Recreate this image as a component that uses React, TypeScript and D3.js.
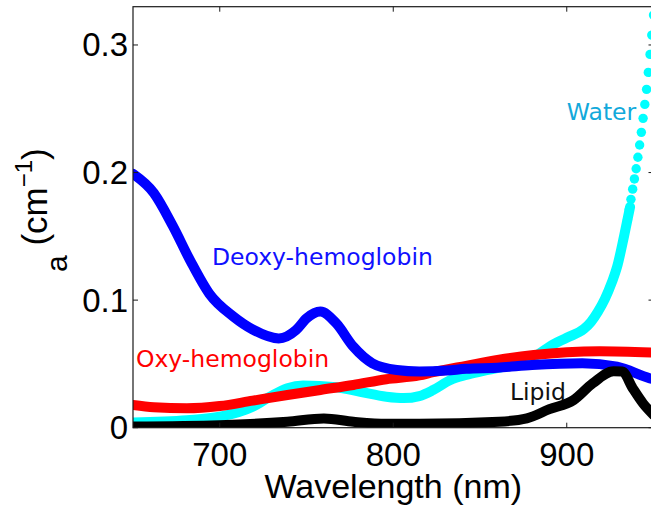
import React from 'react';
import * as d3 from 'd3';

// ---- axis settings ----
const xDomain = [650, 950];
const yDomain = [0, 0.33];
const xTicks = [700, 800, 900];
const xTickLabels = ['700', '800', '900'];
const yTicks = [0, 0.1, 0.2, 0.3];
const yTickLabels = ['0', '0.1', '0.2', '0.3'];

// ---- series (wavelength nm, absorption cm^-1) ----
const waterNm = [650, 681, 700, 719, 729, 739, 748, 767, 781, 796, 806, 815, 823, 833, 842, 852, 870, 884, 890, 900, 910, 914, 918, 922, 926, 929, 933, 936.5];
const waterMua = [0.004, 0.0058, 0.0086, 0.0165, 0.0243, 0.0309, 0.033, 0.0317, 0.0282, 0.0243, 0.0232, 0.0248, 0.0295, 0.0374, 0.0413, 0.0445, 0.05, 0.058, 0.0635, 0.0705, 0.0775, 0.083, 0.091, 0.101, 0.114, 0.126, 0.15, 0.173];
// steep part of water, shown as separate markers
const waterDotNm = [935, 936, 937, 938, 939, 940, 941, 942, 943, 944, 945, 946, 947, 948, 949, 950];
const waterDotMua = [0.163, 0.171, 0.179, 0.187, 0.195, 0.203, 0.212, 0.2216, 0.2315, 0.2425, 0.2534, 0.2652, 0.2785, 0.2926, 0.3078, 0.3234];

const oxyNm = [650, 662, 681, 700, 719, 739, 758, 777, 796, 815, 823, 842, 861, 881, 900, 919, 950];
const oxyMua = [0.0178, 0.016, 0.0152, 0.017, 0.0212, 0.0256, 0.0296, 0.0335, 0.038, 0.041, 0.0435, 0.0485, 0.0533, 0.057, 0.0592, 0.06, 0.0588];

const deoxyNm = [650, 662, 673, 683, 694, 708, 719, 734, 744, 750, 758, 767, 777, 788, 802, 815, 831, 842, 860, 880, 909, 929, 948, 950];
const deoxyMua = [0.199, 0.184, 0.158, 0.131, 0.105, 0.087, 0.077, 0.07, 0.0766, 0.0857, 0.091, 0.082, 0.0635, 0.0505, 0.0452, 0.044, 0.0448, 0.0462, 0.047, 0.0491, 0.0505, 0.0478, 0.0387, 0.038];

const lipidNm = [650, 700, 739, 760, 777, 796, 815, 861, 877, 890, 904, 915, 927, 932, 938, 944, 950];
const lipidMua = [0.001, 0.002, 0.0047, 0.0073, 0.0047, 0.003, 0.003, 0.0047, 0.0073, 0.0145, 0.0217, 0.0348, 0.0442, 0.044, 0.031, 0.019, 0.01];

// ---- annotation labels (data coordinates) ----
const labelNames = ['Water', 'Deoxy-hemoglobin', 'Oxy-hemoglobin', 'Lipid'];
const labelNm = [900, 695.5, 651.7, 867.3];
const labelMua = [0.241, 0.1275, 0.0476, 0.0217];
const labelColors = ['#12a9db', '#1010ff', '#ff0000', '#111111'];

export default function App() {
  const W = 651, H = 505;
  const L = 133, R = 653.5, T = 6.7, B = 427.7;
  const x = d3.scaleLinear().domain(xDomain).range([L, R]);
  const y = d3.scaleLinear().domain(yDomain).range([B, T]);
  const line = d3.line<[number, number]>()
    .x(d => x(d[0]))
    .y(d => y(d[1]))
    .curve(d3.curveMonotoneX);
  const zip = (a: number[], b: number[]) => a.map((v, i) => [v, b[i]] as [number, number]);

  const series = [
    { pts: zip(waterNm, waterMua), color: '#00ffff' },
    { pts: zip(oxyNm, oxyMua), color: '#ff0000' },
    { pts: zip(deoxyNm, deoxyMua), color: '#0000ff' },
    { pts: zip(lipidNm, lipidMua), color: '#000000' },
  ];
  const sw = 10;
  const axisColor = '#1a1a1a';
  const tickFont = 'Liberation Sans, Arial, Helvetica, sans-serif';

  return (
    <svg width={W} height={H} style={{ position: 'absolute', left: 0, top: 0, background: '#fff' }}>
      <defs>
        <clipPath id="plotclip">
          <rect x={L} y={T} width={R - L} height={B - T} />
        </clipPath>
      </defs>
      <rect x={0} y={0} width={W} height={H} fill="#fff" />
      <g clipPath="url(#plotclip)">
        {series.map((s, i) => (
          <React.Fragment key={i}>
            <path d={line(s.pts) || ''} fill="none" stroke={s.color} strokeWidth={sw}
              strokeLinecap="round" strokeLinejoin="round" />
            {i === 0 && waterDotNm.map((n, j) => (
              <circle key={j} cx={x(n)} cy={y(waterDotMua[j])} r={4.7} fill="#00ffff" />
            ))}
          </React.Fragment>
        ))}
      </g>
      {/* axes box */}
      <rect x={L} y={T} width={R - L} height={B - T} fill="none" stroke={axisColor} strokeWidth={1.2} />
      {xTicks.map((t, i) => (
        <g key={'xt' + i}>
          <line x1={x(t)} x2={x(t)} y1={B} y2={B - 5} stroke={axisColor} strokeWidth={1} />
          <line x1={x(t)} x2={x(t)} y1={T} y2={T + 5} stroke={axisColor} strokeWidth={1} />
          <text x={x(t)} y={B + 38} textAnchor="middle" fontFamily={tickFont} fontSize={33} fill="#000">
            {xTickLabels[i]}
          </text>
        </g>
      ))}
      {yTicks.map((t, i) => (
        <g key={'yt' + i}>
          <line x1={L} x2={L + 5} y1={y(t)} y2={y(t)} stroke={axisColor} strokeWidth={1} />
          <line x1={R} x2={R - 5} y1={y(t)} y2={y(t)} stroke={axisColor} strokeWidth={1} />
          <text x={128} y={y(t) + 11.5} textAnchor="end" fontFamily={tickFont} fontSize={33} fill="#000">
            {yTickLabels[i]}
          </text>
        </g>
      ))}
      <text x={(L + R) / 2} y={498} textAnchor="middle" fontFamily={tickFont} fontSize={34} fill="#000">
        Wavelength (nm)
      </text>
      <text transform="rotate(-90)" x={-272} y={67} fontFamily={tickFont} fill="#000">
        <tspan fontSize={30}>a</tspan>
        <tspan fontSize={35} dy={-20}> (cm</tspan>
        <tspan fontSize={24} dy={-15}>−1</tspan>
        <tspan fontSize={35} dy={15}>)</tspan>
      </text>
      {labelNames.map((name, i) => (
        <text key={'lb' + i} x={x(labelNm[i])} y={y(labelMua[i])} fontFamily="DejaVu Sans, Verdana, sans-serif"
          fontSize={23.5} fill={labelColors[i]}>
          {name}
        </text>
      ))}
    </svg>
  );
}
